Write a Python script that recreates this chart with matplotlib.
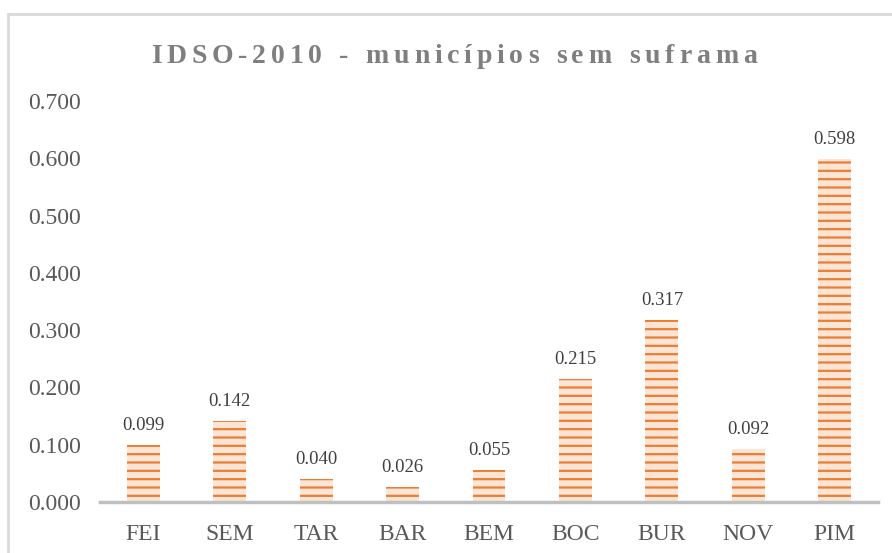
import matplotlib
matplotlib.use("Agg")
import matplotlib.pyplot as plt
from matplotlib.lines import Line2D

categories = ["FEI", "SEM", "TAR", "BAR", "BEM", "BOC", "BUR", "NOV", "PIM"]
values = [0.099, 0.142, 0.040, 0.026, 0.055, 0.215, 0.317, 0.092, 0.598]
yticks = [0.0, 0.1, 0.2, 0.3, 0.4, 0.5, 0.6, 0.7]
title = "IDSO-2010 - municípios sem suframa"

plt.rcParams["font.family"] = ["Liberation Serif", "DejaVu Serif"]
plt.rcParams["hatch.linewidth"] = 1.6

W, H = 892, 553
fig = plt.figure(figsize=(W / 100, H / 100), dpi=100)

# outer chart border
fig.add_artist(Line2D([8 / W, 8 / W], [0, 1 - 14 / H], transform=fig.transFigure,
                      color="#D9D9D9", lw=2))
fig.add_artist(Line2D([8 / W, 1], [1 - 14 / H, 1 - 14 / H], transform=fig.transFigure,
                      color="#D9D9D9", lw=2))

left, right = 100 / W, 878 / W
bottom, top = 1 - 502 / H, 1 - 101 / H
ax = fig.add_axes([left, bottom, right - left, top - bottom])

x = range(len(categories))
ax.bar(x, values, width=0.38, color="#FBE5D6", edgecolor="#ED7D31",
       linewidth=0, hatch="--", zorder=2)
for xi, v in zip(x, values):
    ax.annotate(f"{v:.3f}", (xi, v), xytext=(0, 8), textcoords="offset points",
                ha="center", va="bottom", fontsize=13.5, color="#404040")

ax.set_xlim(-0.5, len(categories) - 0.5)
ax.set_ylim(0, 0.7)
ax.set_yticks(yticks)
ax.set_yticklabels([f"{t:.3f}" for t in yticks])
ax.set_xticks(list(x))
ax.set_xticklabels(categories)
ax.tick_params(axis="both", length=0, labelsize=17, colors="#595959")
ax.tick_params(axis="y", pad=14)
ax.tick_params(axis="x", pad=16)
for s in ["top", "right", "left"]:
    ax.spines[s].set_visible(False)
ax.spines["bottom"].set_color("#BFBFBF")
ax.spines["bottom"].set_linewidth(2.5)
ax.patch.set_visible(False)

# letter-spaced title
fig.canvas.draw()
renderer = fig.canvas.get_renderer()
spacing = 4.8
fs = 20
widths = []
for ch in title:
    t = fig.text(0, 0, ch if ch != " " else "n", fontsize=fs, fontweight="bold")
    bb = t.get_window_extent(renderer)
    w = bb.width if ch != " " else bb.width * 0.5
    widths.append(w)
    t.remove()
total = sum(widths) + spacing * (len(title) - 1)
cx = 454
xpos = cx - total / 2
ybase = H - 63
for ch, w in zip(title, widths):
    if ch != " ":
        fig.text(xpos / W, ybase / H, ch, fontsize=fs, fontweight="bold",
                 color="#7F7F7F", ha="left", va="baseline")
    xpos += w + spacing

fig.savefig("out.png", dpi=100)
